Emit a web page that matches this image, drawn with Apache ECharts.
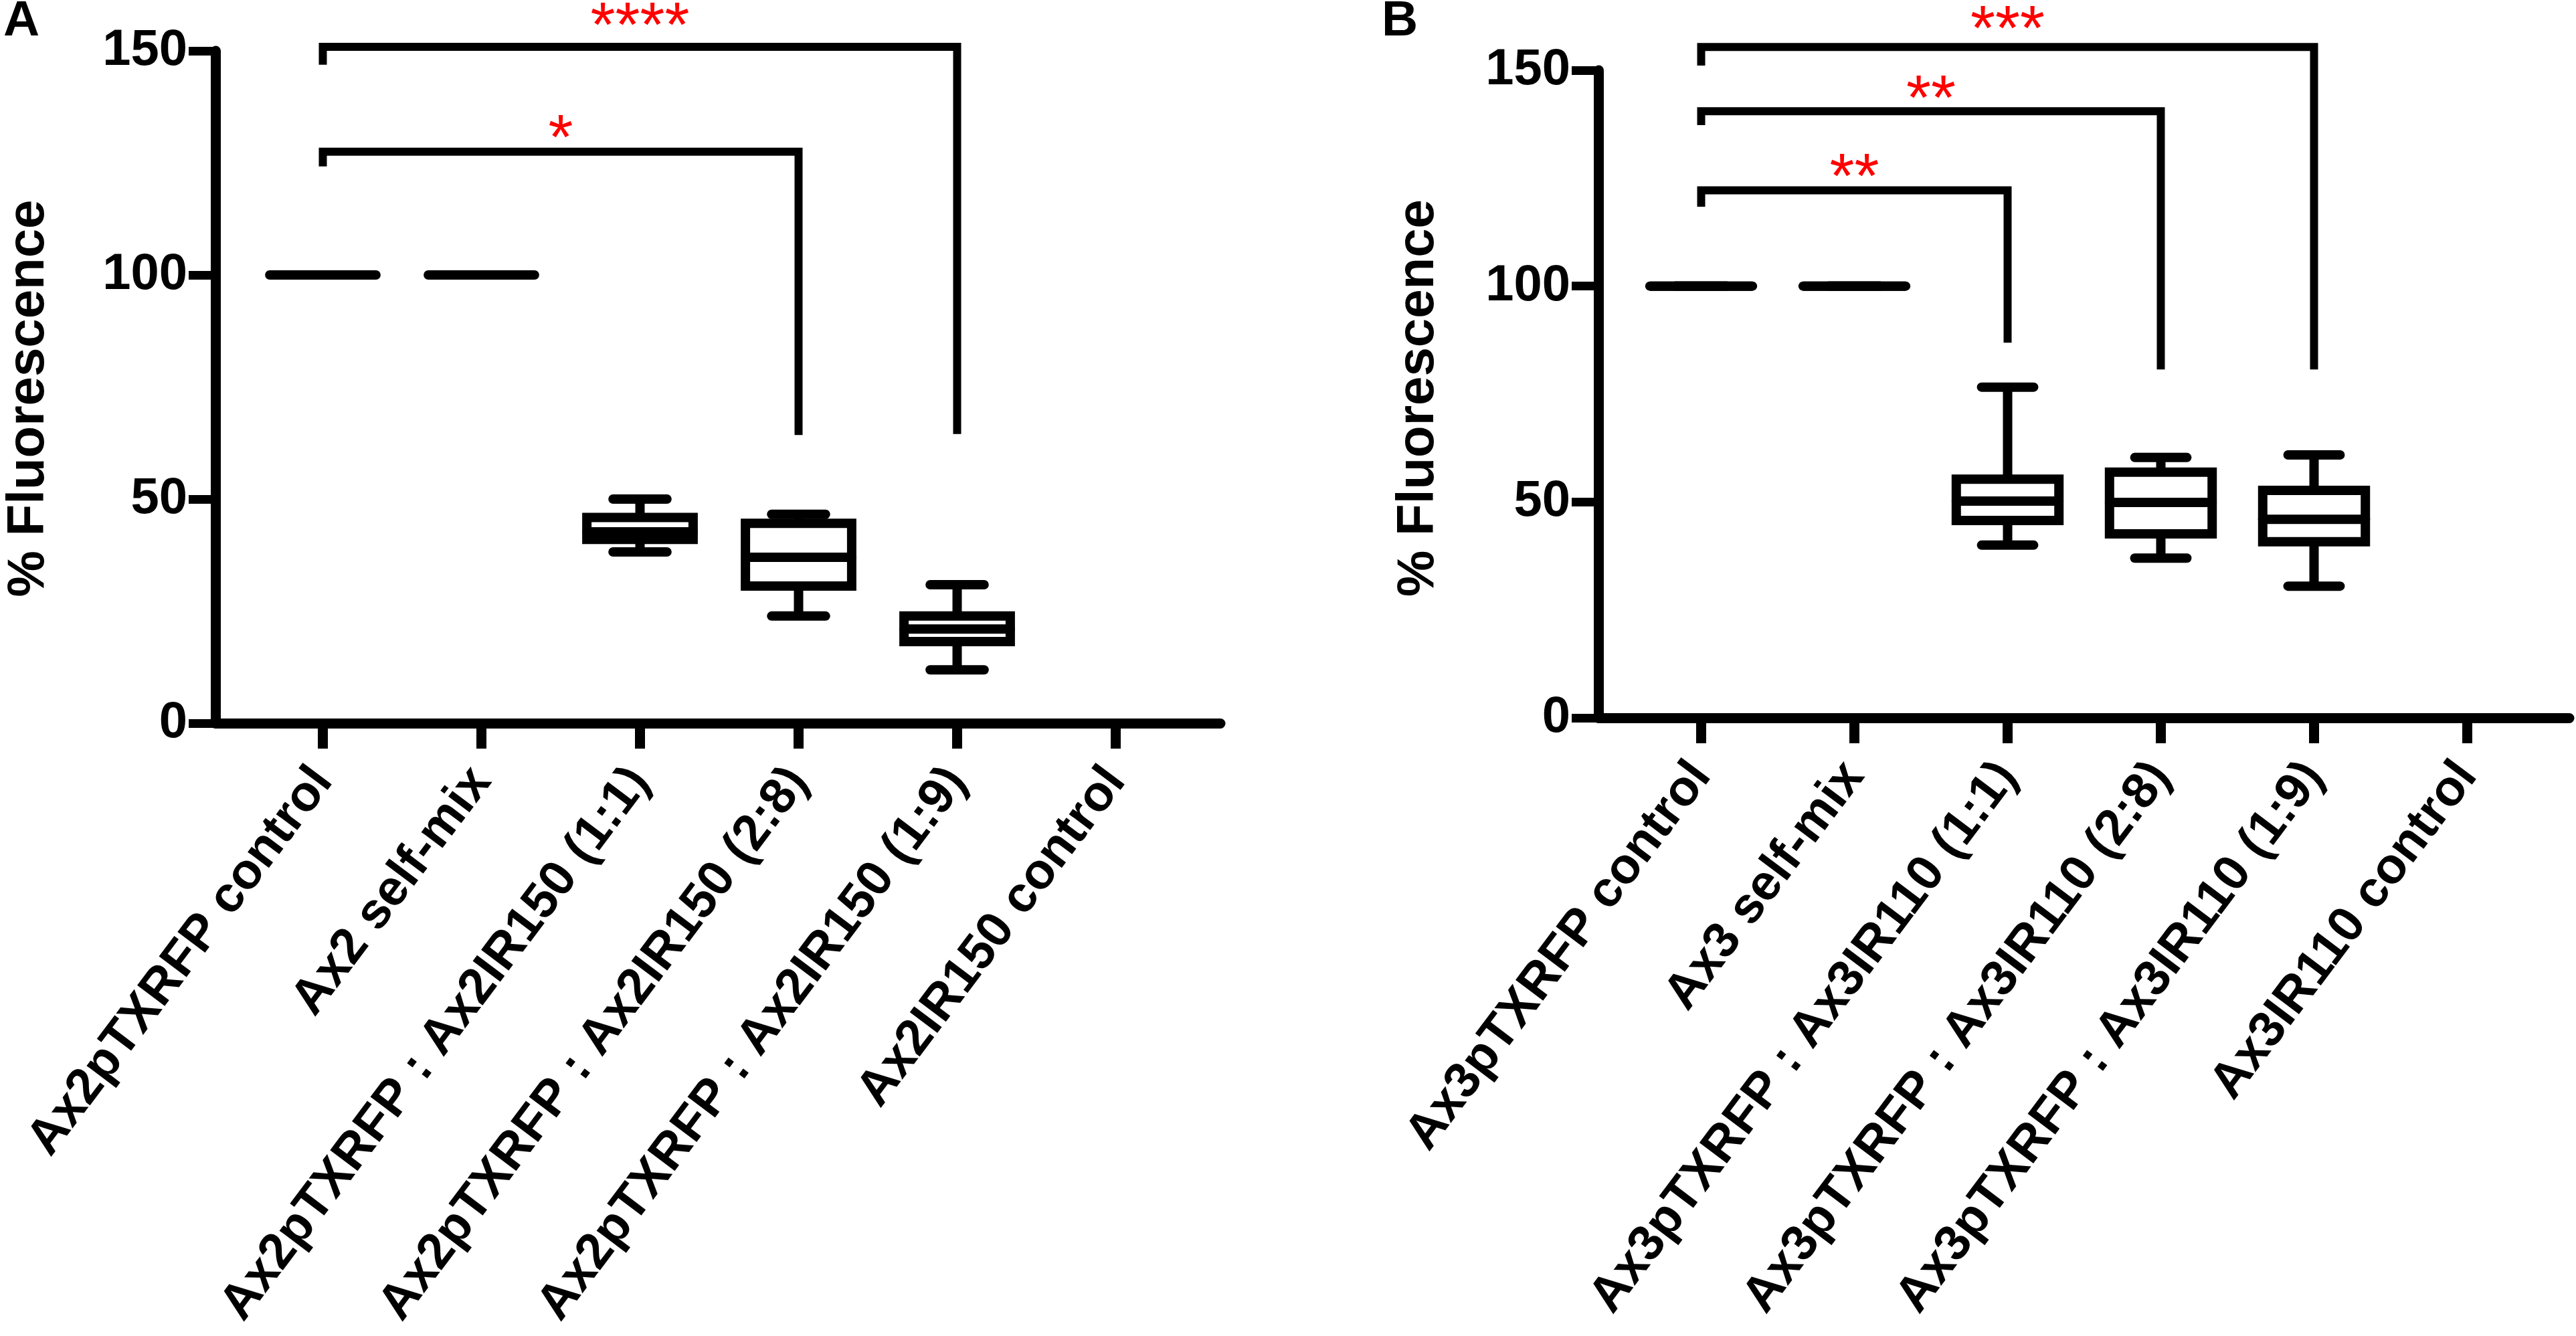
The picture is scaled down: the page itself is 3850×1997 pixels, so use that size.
<!DOCTYPE html>
<html lang="en">
<head>
<meta charset="UTF-8">
<title>% Fluorescence</title>
<style>
    html,
    body {
        margin: 0;
        padding: 0;
        background-color: #fff;
    }

    #chart {
        width: 3850px;
        height: 1997px;
    }
</style>
</head>
<body>
<div id="chart"></div>
<script src="https://cdn.jsdelivr.net/npm/echarts@6/dist/echarts.min.js"></script>
<script>
    const categoriesA = ['Ax2pTXRFP control', 'Ax2 self-mix', 'Ax2pTXRFP : Ax2IR150 (1:1)',
        'Ax2pTXRFP : Ax2IR150 (2:8)', 'Ax2pTXRFP : Ax2IR150 (1:9)', 'Ax2IR150 control'];
    const categoriesB = ['Ax3pTXRFP control', 'Ax3 self-mix', 'Ax3pTXRFP : Ax3IR110 (1:1)',
        'Ax3pTXRFP : Ax3IR110 (2:8)', 'Ax3pTXRFP : Ax3IR110 (1:9)', 'Ax3IR110 control'];

    // [min, Q1, median, Q3, max] per category, null = no data
    const boxesA = [
        [100, 100, 100, 100, 100],
        [100, 100, 100, 100, 100],
        [38.2, 41.0, 42.7, 45.9, 50.0],
        [23.9, 30.6, 37.0, 44.6, 46.6],
        [11.9, 18.2, 21.0, 23.9, 30.9],
        null
    ];
    const boxesB = [
        [100, 100, 100, 100, 100],
        [100, 100, 100, 100, 100],
        [40.0, 45.7, 50.2, 55.3, 76.6],
        [37.0, 42.6, 49.9, 56.9, 60.3],
        [30.5, 40.8, 46.0, 52.7, 60.9],
        null
    ];

    // [left category, right category, left leg end, bar level, right leg end, stars level]
    const bracketsA = [
        [0, 3, 124.2, 127.5, 64.3, 133.2],
        [0, 4, 146.9, 150.9, 64.5, 158.2]
    ];
    const starsA = ['*', '****'];
    const bracketsB = [
        [0, 2, 118.4, 122.2, 86.9, 128.0],
        [0, 3, 137.3, 140.5, 80.7, 146.1],
        [0, 4, 151.1, 155.4, 80.7, 162.3]
    ];
    const starsB = ['**', '**', '***'];

    const yTicks = [0, 50, 100, 150];

    const FONT = '"Liberation Sans", Arial, sans-serif';
    const LW = 14;

    function seg(x1, y1, x2, y2, cap) {
        return {
            type: 'line',
            shape: { x1, y1, x2, y2 },
            style: { stroke: '#000', lineWidth: LW, lineCap: cap || 'round' }
        };
    }

    function boxItem(params, api) {
        const x = api.value(0);
        const band = api.size([1, 0])[0];
        const halfBox = band * 0.335;
        const halfCap = band * 0.17;
        const lo = api.coord([x, api.value(1)]);
        const q1 = api.coord([x, api.value(2)]);
        const med = api.coord([x, api.value(3)]);
        const q3 = api.coord([x, api.value(4)]);
        const hi = api.coord([x, api.value(5)]);
        const cx = lo[0];
        return {
            type: 'group',
            children: [
                seg(cx, q3[1], cx, hi[1], 'butt'),
                seg(cx, q1[1], cx, lo[1], 'butt'),
                seg(cx - halfCap, hi[1], cx + halfCap, hi[1]),
                seg(cx - halfCap, lo[1], cx + halfCap, lo[1]),
                {
                    type: 'rect',
                    shape: { x: cx - halfBox, y: q3[1], width: halfBox * 2, height: q1[1] - q3[1] },
                    style: { fill: 'none', stroke: '#000', lineWidth: LW }
                },
                seg(cx - halfBox, med[1], cx + halfBox, med[1])
            ]
        };
    }

    function bracketRenderer(stars) {
        const size = 95;
        return function (params, api) {
            const l = api.coord([api.value(0), api.value(2)]);
            const lt = api.coord([api.value(0), api.value(3)]);
            const rt = api.coord([api.value(1), api.value(3)]);
            const r = api.coord([api.value(1), api.value(4)]);
            const s = api.coord([api.value(0), api.value(5)]);
            return {
                type: 'group',
                children: [
                    {
                        type: 'polyline',
                        shape: { points: [l, lt, rt, r] },
                        style: { fill: 'none', stroke: '#000', lineWidth: 12, lineJoin: 'miter' }
                    },
                    {
                        type: 'text',
                        x: (lt[0] + rt[0]) / 2,
                        y: s[1] + size * 0.23,
                        style: {
                            text: stars[params.dataIndex],
                            fill: '#ff0000',
                            font: size + 'px ' + FONT,
                            align: 'center',
                            verticalAlign: 'middle'
                        }
                    }
                ]
            };
        };
    }

    function boxData(boxes) {
        return boxes.map((b, i) => b ? [i].concat(b) : null).filter(Boolean);
    }

    function frameX(gridIndex) {
        return {
            gridIndex, type: 'value', min: 0, max: 1,
            axisLine: { show: true, lineStyle: { color: '#000', width: 15 } },
            axisTick: { show: false }, axisLabel: { show: false }, splitLine: { show: false }
        };
    }

    function frameY(gridIndex, gap, shift) {
        return {
            gridIndex, type: 'value',
            min: yTicks[0], max: yTicks[yTicks.length - 1], interval: yTicks[1] - yTicks[0],
            name: '% Fluorescence', nameLocation: 'middle', nameGap: gap, nameRotate: 90,
            nameTextStyle: {
                fontSize: 78, fontWeight: 'bold', color: '#000', fontFamily: FONT,
                padding: [0, shift, 0, 0]
            },
            axisLine: { show: true, lineStyle: { color: '#000', width: 15 } },
            axisTick: { show: true, length: 40, lineStyle: { color: '#000', width: 13 } },
            axisLabel: { margin: 42, fontSize: 76, fontWeight: 'bold', color: '#000', fontFamily: FONT },
            splitLine: { show: false }
        };
    }

    function dataX(gridIndex, cats) {
        return {
            gridIndex, type: 'category', data: cats,
            axisLine: { show: false },
            axisTick: { show: true, alignWithLabel: true, length: 38, lineStyle: { color: '#000', width: 15 } },
            axisLabel: { interval: 0, rotate: 53, margin: 75, fontSize: 75, fontWeight: 'bold', color: '#000', fontFamily: FONT },
            splitLine: { show: false }
        };
    }

    function dataY(gridIndex) {
        return {
            gridIndex, type: 'value', show: false,
            min: yTicks[0], max: yTicks[yTicks.length - 1], interval: yTicks[1] - yTicks[0],
            splitLine: { show: false }
        };
    }

    const chart = echarts.init(document.getElementById('chart'), null, { renderer: 'canvas' });

    chart.setOption({
        animation: false,
        backgroundColor: '#fff',
        title: [
            { text: 'A', left: 0, top: -10, textStyle: { fontSize: 75, fontWeight: 'bold', color: '#000', fontFamily: FONT } },
            { text: 'B', left: 2060, top: -10, textStyle: { fontSize: 75, fontWeight: 'bold', color: '#000', fontFamily: FONT } }
        ],
        grid: [
            { left: 322, top: 76, width: 1502, height: 1005, outerBoundsMode: 'none' },
            { left: 364, top: 76, width: 1422, height: 1005, outerBoundsMode: 'none' },
            { left: 2389, top: 105, width: 1451, height: 968, outerBoundsMode: 'none' },
            { left: 2428, top: 105, width: 1374, height: 968, outerBoundsMode: 'none' }
        ],
        xAxis: [frameX(0), dataX(1, categoriesA), frameX(2), dataX(3, categoriesB)],
        yAxis: [frameY(0, 240, 34), dataY(1), frameY(2, 230, 12), dataY(3)],
        series: [
            {
                type: 'custom', xAxisIndex: 1, yAxisIndex: 1,
                encode: { x: 0, y: [1, 2, 3, 4, 5] },
                renderItem: boxItem, data: boxData(boxesA)
            },
            {
                type: 'custom', xAxisIndex: 1, yAxisIndex: 1,
                encode: { x: 0, y: [2, 3, 4, 5] },
                renderItem: bracketRenderer(starsA), data: bracketsA
            },
            {
                type: 'custom', xAxisIndex: 3, yAxisIndex: 3,
                encode: { x: 0, y: [1, 2, 3, 4, 5] },
                renderItem: boxItem, data: boxData(boxesB)
            },
            {
                type: 'custom', xAxisIndex: 3, yAxisIndex: 3,
                encode: { x: 0, y: [2, 3, 4, 5] },
                renderItem: bracketRenderer(starsB), data: bracketsB
            }
        ]
    });
</script>
</body>
</html>
